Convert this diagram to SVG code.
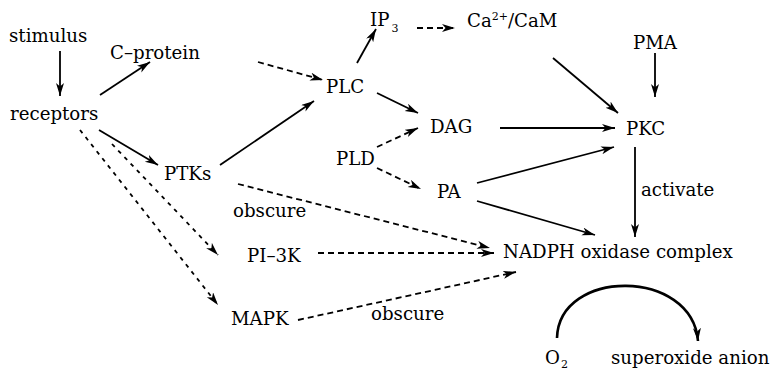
<svg xmlns="http://www.w3.org/2000/svg" width="772" height="370" viewBox="0 0 772 370">
<defs>
<marker id="ah" markerUnits="userSpaceOnUse" markerWidth="15" markerHeight="10" refX="13" refY="4" orient="auto">
<path d="M0,0 L13,4 L0,8 L3.5,4 z" fill="#000"/>
</marker>
<style>
text{font-family:"DejaVu Serif","Liberation Serif",serif;font-size:18.2px;fill:#000}
.sub{font-size:11px}
.sol{stroke:#000;stroke-width:1.8;fill:none;marker-end:url(#ah)}
.dsh{stroke:#000;stroke-width:1.8;fill:none;stroke-dasharray:6 4;marker-end:url(#ah)}
.dsh2{stroke:#000;stroke-width:1.8;fill:none;stroke-dasharray:4 5;marker-end:url(#ah)}
</style>
</defs>
<rect width="772" height="370" fill="#fff"/>
<g id="connectors">
<line class="sol" x1="60" y1="51" x2="60" y2="96"/>
<line class="sol" x1="100" y1="95" x2="150" y2="62"/>
<line class="sol" x1="99" y1="130" x2="158" y2="165"/>
<line class="dsh2" x1="80" y1="130" x2="218" y2="305"/>
<line class="dsh2" x1="112" y1="144" x2="218" y2="255"/>
<line class="sol" x1="220" y1="165" x2="314" y2="101"/>
<line class="dsh" x1="258" y1="62" x2="323" y2="80"/>
<line class="sol" x1="357" y1="63" x2="376" y2="29"/>
<line class="dsh" x1="417" y1="28" x2="455" y2="28"/>
<line class="sol" x1="377" y1="93" x2="418" y2="113"/>
<line class="sol" x1="500" y1="128" x2="615" y2="128"/>
<line class="sol" x1="553" y1="58" x2="618" y2="113"/>
<line class="sol" x1="655" y1="53" x2="655" y2="97"/>
<line class="sol" x1="477" y1="183" x2="614" y2="147"/>
<line class="sol" x1="477" y1="201" x2="595" y2="235"/>
<line class="sol" x1="635" y1="147" x2="635" y2="237"/>
<line class="dsh" x1="377" y1="147" x2="418" y2="128"/>
<line class="dsh" x1="377" y1="168" x2="421" y2="189"/>
<line class="dsh" x1="238" y1="184" x2="490" y2="248"/>
<line class="dsh" x1="318" y1="253" x2="494" y2="253"/>
<line class="dsh" x1="298" y1="320" x2="516" y2="272"/>
<path d="M557,338 C559,268 692,268 698,341" stroke="#000" stroke-width="2.6" fill="none" marker-end="url(#ah)"/>
</g>
<g id="stimulus"><text x="9" y="42">stimulus</text></g>
<g id="c-protein"><text x="110" y="59">C–protein</text></g>
<g id="receptors"><text x="10" y="120">receptors</text></g>
<g id="ptks"><text x="164" y="180">PTKs</text></g>
<g id="obscure1"><text x="233" y="217">obscure</text></g>
<g id="pi3k"><text x="247" y="262">PI–3K</text></g>
<g id="mapk"><text x="231" y="325">MAPK</text></g>
<g id="obscure2"><text x="371" y="320">obscure</text></g>
<g id="plc"><text x="326" y="93">PLC</text></g>
<g id="ip3"><text x="370" y="26">IP<tspan class="sub" dx="2" dy="6">3</tspan></text></g>
<g id="ca"><text x="467" y="27">Ca<tspan class="sub" dy="-7">2+</tspan><tspan dy="7">/CaM</tspan></text></g>
<g id="dag"><text x="430" y="133">DAG</text></g>
<g id="pld"><text x="336" y="165">PLD</text></g>
<g id="pa"><text x="437" y="198">PA</text></g>
<g id="pma"><text x="633" y="49">PMA</text></g>
<g id="pkc"><text x="626" y="135">PKC</text></g>
<g id="activate"><text x="641" y="196">activate</text></g>
<g id="nadph"><text x="503" y="258">NADPH oxidase complex</text></g>
<g id="o2"><text x="545" y="364">O<tspan class="sub" dx="1" dy="4">2</tspan></text></g>
<g id="superoxide"><text x="611" y="364">superoxide anion</text></g>
</svg>
